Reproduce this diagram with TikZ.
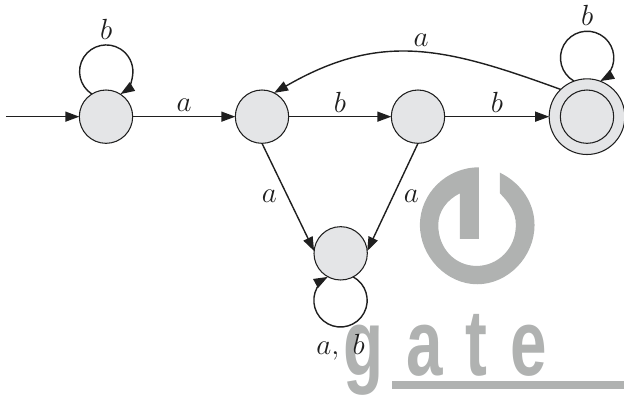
\documentclass[tikz,border=0pt]{standalone}
\usepackage{fontspec}
\usetikzlibrary{positioning, arrows.meta}
\newfontfamily\logofont[LetterSpace=35]{Liberation Sans}
\definecolor{stategray}{HTML}{E4E5E7}
\definecolor{logogray}{HTML}{B0B2B1}
\definecolor{edgeblack}{HTML}{1F1F1F}

\begin{document}
\begin{tikzpicture}[
  >={Triangle[length=0.42cm, width=0.3cm]}, font=\fontsize{24}{28}\selectfont,
  statenode/.style={draw=edgeblack, fill=stategray, circle, line width=0.9pt,
    minimum size=1.6cm, inner sep=0pt, outer sep=0pt},
  finalnode/.style={statenode, minimum size=2.27cm},
  arr/.style={->, line width=1.2pt, edgeblack},
  lbl/.style={inner sep=3pt, text=edgeblack},
  logofill/.style={fill=logogray, draw=none}
]
\useasboundingbox (0,0) rectangle (18.72,11.88);

% watermark goes first so that the graph sits on top of it
\begin{scope}[shift={(9,7.68)}, x=0.01cm, y=-0.01cm]
\fill[logofill] (537,82) -- (537,297) -- (480,297) -- (480,160)
  .. controls (440,180) and (415,215) .. (415,255)
  .. controls (415,325) and (465,378) .. (530,378)
  .. controls (595,378) and (648,325) .. (648,255)
  .. controls (648,215) and (625,185) .. (600,160)
  -- (600,98)
  .. controls (665,130) and (704,190) .. (704,255)
  .. controls (704,350) and (625,433) .. (532,433)
  .. controls (440,433) and (360,350) .. (360,255)
  .. controls (360,160) and (440,82) .. (537,82) -- cycle;
\fill[logofill] (276,723) rectangle (972,747);
\end{scope}
\node[anchor=base west, inner sep=0pt, xscale=0.7, text=logogray,
  font=\logofont\bfseries\fontsize{80}{84}\selectfont] (logo) at (10.3,0.63) {gate};

\node[statenode] (q0) at (3.18,8.38) {};
\node[statenode, right=3.08cm of q0] (q1) {};
\node[statenode, right=3.08cm of q1] (q2) {};
\node[finalnode, right=3.135cm of q2] (q3) {};
\node[statenode] (q3in) at (q3) {};
\node[statenode, on grid, below right=4.1cm and 2.36cm of q1] (q4) {};
\coordinate[left=2.2cm of q0] (start);

\draw[arr] (start) -- (q0);
\draw[arr] (q0) -- node[lbl, above, yshift=1pt] {$a$} (q1);
\draw[arr] (q1) -- node[lbl, above] {$b$} (q2);
\draw[arr] (q2) -- node[lbl, above] {$b$} (q3);
\draw[arr] (q1.south) -- node[lbl, left, xshift=-6pt, yshift=1pt] {$a$} (q4.175);
\draw[arr] (q2.south) -- node[lbl, right, xshift=6pt, yshift=1pt] {$a$} (q4.5);
\draw[arr] (q3.134) to[out=160, in=30, looseness=1.1] node[lbl, above, xshift=6pt, yshift=1pt] {$a$} (q1.63);
\draw[arr] (q0.122.6) arc[start angle=237.4, end angle=-57.4, radius=0.8cm]
  node[lbl, pos=0.5, above, yshift=1pt] {$b$};
\draw[arr] (q3.110.3) arc[start angle=240.6, end angle=-60.6, radius=0.8cm]
  node[lbl, pos=0.5, above, yshift=1pt] {$b$};
\draw[arr] (q4.298.4) arc[start angle=61.6, end angle=-241.6, radius=0.8cm]
  node[lbl, pos=0.5, below, yshift=-3pt] {$a,\ b$};
\end{tikzpicture}
\end{document}
